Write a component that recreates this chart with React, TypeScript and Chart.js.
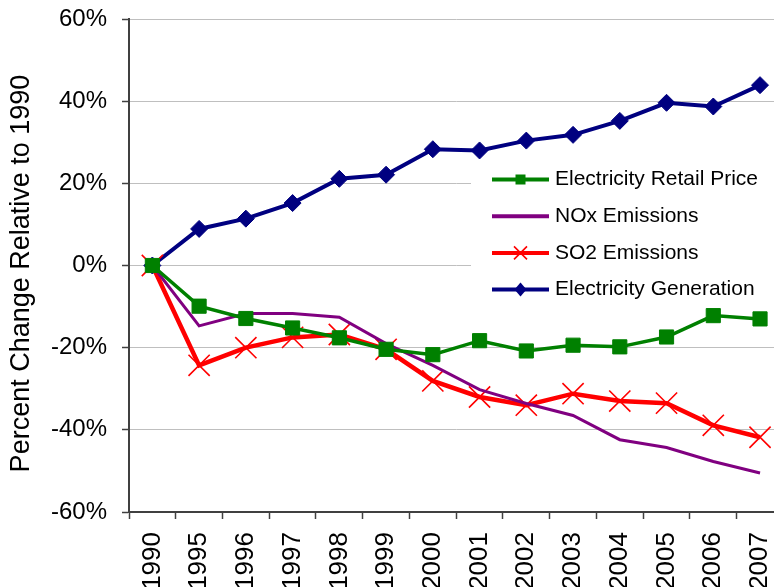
import React, { useEffect, useRef } from 'react';
import { Chart, registerables } from 'chart.js';

Chart.register(...registerables);

const years = ['1990', '1995', '1996', '1997', '1998', '1999', '2000', '2001', '2002', '2003', '2004', '2005', '2006', '2007'];
const retailPrice = [0, -9.9, -12.9, -15.2, -17.6, -20.4, -21.7, -18.3, -20.8, -19.4, -19.8, -17.4, -12.2, -13.0];
const noxEmissions = [0, -14.7, -11.7, -11.7, -12.6, -19.0, -24.3, -30.2, -33.6, -36.5, -42.4, -44.3, -47.7, -50.5];
const so2Emissions = [0, -24.3, -20.0, -17.5, -16.8, -20.4, -28.1, -32.0, -34.0, -31.2, -33.0, -33.5, -38.9, -41.8];
const generation = [0, 8.9, 11.4, 15.2, 21.1, 22.1, 28.3, 28.0, 30.4, 31.8, 35.2, 39.6, 38.7, 43.9];
const seriesNames = ['Electricity Retail Price', 'NOx Emissions', 'SO2 Emissions', 'Electricity Generation'];
const yMin = -60;
const yMax = 60;
const yStep = 20;
const yTitle = 'Percent Change Relative to 1990';

const FONT = "'Liberation Sans', Arial, sans-serif";

const yTitlePlugin = {
  id: 'yTitle',
  afterDraw(chart: any) {
    const ctx = chart.ctx as CanvasRenderingContext2D;
    const area = chart.chartArea;
    ctx.save();
    ctx.translate(22, (area.top + area.bottom) / 2 + 8);
    ctx.rotate(-Math.PI / 2);
    ctx.fillStyle = '#000000';
    ctx.font = `27px ${FONT}`;
    ctx.textAlign = 'center';
    ctx.textBaseline = 'middle';
    ctx.fillText(yTitle, 0, 0);
    ctx.restore();
  },
};

const legendPlugin = {
  id: 'insideLegend',
  afterDatasetsDraw(chart: any) {
    const ctx = chart.ctx as CanvasRenderingContext2D;
    const area = chart.chartArea;
    const boxLeft = 471;
    const boxTop = 160;
    ctx.save();
    ctx.fillStyle = '#ffffff';
    ctx.fillRect(boxLeft, boxTop, area.right - boxLeft + 20, 146);
    const firstY = 179.5;
    const gap = 36.7;
    const lineX0 = 492;
    const lineX1 = 549;
    const cx = (lineX0 + lineX1) / 2;
    chart.data.datasets.forEach((ds: any, i: number) => {
      const y = firstY + i * gap;
      ctx.strokeStyle = ds.borderColor;
      ctx.lineWidth = 4;
      ctx.lineCap = 'butt';
      ctx.beginPath();
      ctx.moveTo(lineX0, y);
      ctx.lineTo(lineX1, y);
      ctx.stroke();
      ctx.fillStyle = ds.pointBackgroundColor;
      ctx.strokeStyle = ds.pointBorderColor;
      if (ds.pointStyle === 'rect') {
        ctx.fillRect(cx - 5, y - 5, 10, 10);
      } else if (ds.pointStyle === 'crossRot') {
        ctx.lineWidth = 1.6;
        ctx.beginPath();
        ctx.moveTo(cx - 6.5, y - 6.5);
        ctx.lineTo(cx + 6.5, y + 6.5);
        ctx.moveTo(cx + 6.5, y - 6.5);
        ctx.lineTo(cx - 6.5, y + 6.5);
        ctx.stroke();
      } else if (ds.pointStyle === 'rectRot') {
        ctx.beginPath();
        ctx.moveTo(cx, y - 7);
        ctx.lineTo(cx + 6, y);
        ctx.lineTo(cx, y + 7);
        ctx.lineTo(cx - 6, y);
        ctx.closePath();
        ctx.fill();
      }
      ctx.fillStyle = '#000000';
      ctx.font = `21px ${FONT}`;
      ctx.textAlign = 'left';
      ctx.textBaseline = 'middle';
      ctx.fillText(ds.label, 555, y);
    });
    ctx.restore();
  },
};

export default function App() {
  const canvasRef = useRef<HTMLCanvasElement | null>(null);

  useEffect(() => {
    if (!canvasRef.current) return;
    const chart = new Chart(canvasRef.current, {
      type: 'line',
      data: {
        labels: years,
        datasets: [
          {
            label: seriesNames[0],
            data: retailPrice,
            borderColor: '#008000',
            backgroundColor: '#008000',
            pointBackgroundColor: '#008000',
            pointBorderColor: '#008000',
            borderWidth: 3.5,
            pointStyle: 'rect',
            pointRadius: 10,
            pointBorderWidth: 1,
            tension: 0,
          },
          {
            label: seriesNames[1],
            data: noxEmissions,
            borderColor: '#800080',
            backgroundColor: '#800080',
            pointBackgroundColor: '#800080',
            pointBorderColor: '#800080',
            borderWidth: 3,
            pointRadius: 0,
            pointStyle: false as any,
            tension: 0,
          },
          {
            label: seriesNames[2],
            data: so2Emissions,
            borderColor: '#ff0000',
            backgroundColor: '#ff0000',
            pointBackgroundColor: '#ff0000',
            pointBorderColor: '#ff0000',
            borderWidth: 4.5,
            pointStyle: 'crossRot',
            pointRadius: 15,
            pointBorderWidth: 1.6,
            tension: 0,
          },
          {
            label: seriesNames[3],
            data: generation,
            borderColor: '#000080',
            backgroundColor: '#000080',
            pointBackgroundColor: '#000080',
            pointBorderColor: '#000080',
            borderWidth: 4,
            pointStyle: 'rectRot',
            pointRadius: 8.5,
            pointBorderWidth: 1,
            tension: 0,
          },
        ],
      },
      options: {
        responsive: false,
        animation: false,
        devicePixelRatio: 1,
        layout: { padding: { left: 0, top: 19, right: 16, bottom: 0 } },
        plugins: {
          legend: { display: false },
          tooltip: { enabled: false },
        },
        scales: {
          x: {
            type: 'category',
            offset: true,
            grid: {
              display: true,
              offset: true,
              drawOnChartArea: false,
              drawTicks: true,
              tickLength: 7,
              tickColor: '#404040',
              tickWidth: 1.5,
            },
            border: { display: true, color: '#404040', width: 2 },
            ticks: {
              autoSkip: false,
              maxRotation: 90,
              minRotation: 90,
              padding: 13,
              color: '#000000',
              font: { family: FONT, size: 26 },
            },
            afterFit(scale: any) {
              scale.height = 75;
              scale.paddingLeft = 0;
              scale.paddingRight = 0;
            },
          },
          y: {
            min: yMin,
            max: yMax,
            grid: {
              color: '#bfbfbf',
              lineWidth: 1,
              tickLength: 7,
              tickColor: '#404040',
              tickWidth: 1.5,
            },
            border: { display: true, color: '#404040', width: 2 },
            ticks: {
              stepSize: yStep,
              padding: 15,
              color: '#000000',
              font: { family: FONT, size: 24 },
              callback: (v: any) => `${v}%`,
            },
            title: { display: false },
            afterFit(scale: any) {
              scale.width = 129;
              scale.paddingTop = 0;
              scale.paddingBottom = 0;
            },
          },
        },
      },
      plugins: [legendPlugin, yTitlePlugin],
    } as any);
    return () => chart.destroy();
  }, []);

  return (
    <div style={{ position: 'fixed', left: 0, top: 0, width: 774, height: 587, overflow: 'hidden', background: '#fff' }}>
      <canvas ref={canvasRef} width={800} height={587} style={{ display: 'block' }} />
    </div>
  );
}
